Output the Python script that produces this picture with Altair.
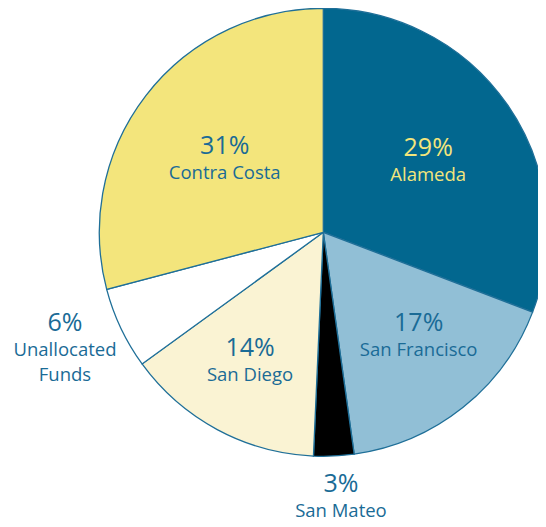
import altair as alt
import pandas as pd

# ---- data ----
counties = ["Alameda", "San Francisco", "San Mateo", "San Diego",
            "Unallocated Funds", "Contra Costa"]
pct_labels = ["29%", "17%", "3%", "14%", "6%", "31%"]
# slice sizes as drawn (percent of the circle)
shares = [30.8, 17.0, 2.9, 14.3, 5.9, 29.1]
name_lines = ["Alameda", "San Francisco", "San Mateo", "San Diego",
              "Unallocated\nFunds", "Contra Costa"]

# ---- styling / layout ----
slice_colors = ["#02678f", "#91bfd6", "#000000", "#faf3d3", "#ffffff", "#f3e57c"]
text_colors = ["#f3e57c", "#1a6b96", "#1a6b96", "#1a6b96", "#1a6b96", "#1a6b96"]
label_radius = [129.7, 137.3, 260.0, 143.8, 276.4, 126.2]
label_nudge = [-0.41, -1.52, -0.33, 0.66, 1.26, 0.28]

CX, CY, R = 315.3, 224.3, 224

df = pd.DataFrame({
    "county": counties,
    "pct": pct_labels,
    "share": shares,
    "name": name_lines,
    "tcolor": text_colors,
    "lr": label_radius,
    "order": list(range(len(counties))),
})
cum = df["share"].cumsum()
df["mid"] = cum - df["share"] / 2 + pd.Series(label_nudge)

theta_scale = alt.Scale(domain=[0, 100])
base = alt.Chart(df)

arcs = base.mark_arc(outerRadius=R, stroke="#1f6f98", strokeWidth=1.3).encode(
    theta=alt.Theta("share:Q", stack=True, scale=theta_scale),
    order=alt.Order("order:Q"),
    color=alt.Color("county:N", scale=alt.Scale(domain=counties, range=slice_colors), legend=None),
    x=alt.value(CX),
    y=alt.value(CY),
)

pct_text = base.mark_text(font="Open Sans", fontSize=25, align="center",
                          baseline="alphabetic").encode(
    theta=alt.Theta("mid:Q", stack=None, scale=theta_scale),
    radius=alt.Radius("lr:Q", scale=None),
    text=alt.Text("pct:N"),
    color=alt.Color("tcolor:N", scale=None),
    x=alt.value(CX),
    y=alt.value(CY),
)

name_text = base.mark_text(font="Open Sans", fontSize=18.5, align="center",
                           baseline="alphabetic", dy=25, lineBreak="\n",
                           lineHeight=25).encode(
    theta=alt.Theta("mid:Q", stack=None, scale=theta_scale),
    radius=alt.Radius("lr:Q", scale=None),
    text=alt.Text("name:N"),
    color=alt.Color("tcolor:N", scale=None),
    x=alt.value(CX),
    y=alt.value(CY),
)

chart = alt.layer(arcs, pct_text, name_text).properties(
    width=530, height=511, padding=0,
    autosize=alt.AutoSizeParams(type="none"),
    background="white",
).configure_view(stroke=None)

chart.save("out.html", embed_options={"renderer": "svg", "actions": False})
